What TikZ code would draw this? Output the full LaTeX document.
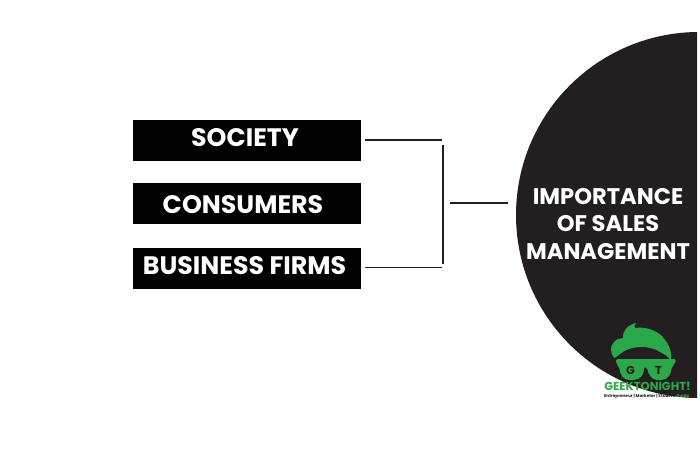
\documentclass[tikz,border=0pt]{standalone}
\usepackage{fontspec}
\setmainfont{Poppins}
\usepackage{xcolor}
\usetikzlibrary{positioning}
\definecolor{inkblack}{HTML}{231F20}
\definecolor{geekgreen}{HTML}{2BA84A}

\begin{document}
\begin{tikzpicture}[
    x=1pt, y=-1pt,
    barbox/.style={rectangle, fill=black, minimum width=228pt, minimum height=41pt, inner sep=0pt, outer sep=0pt},
    barlabel/.style={text=white, inner sep=0pt, font=\fontsize{25.3}{30}\selectfont\bfseries},
    link/.style={draw=inkblack, line width=1.1pt},
    titletext/.style={text=white, align=center, inner sep=0pt, font=\fontsize{22.6}{27.5}\selectfont\bfseries},
    lensletter/.style={text=inkblack, inner sep=0pt, font=\fontsize{11.5}{12}\selectfont\bfseries},
]
\useasboundingbox (0,0) rectangle (700,451);

% half disc on the right
\begin{scope}
    \clip (0,0) rectangle (697,398);
    \fill[inkblack] (699,215) circle[radius=183];
\end{scope}

% boxes
\node[barbox] (society) at (247,140.5) {};
\node[barbox, below=22pt of society] (consumers) {};
\node[barbox, below=24pt of consumers] (firms) {};
\node[barlabel] (societytext) at (245,138) {SOCIETY};
\node[barlabel] (consumerstext) at (243,204.5) {CONSUMERS};
\node[barlabel] (firmstext) at (244.5,266) {BUSINESS FIRMS};
\node[titletext] (title) at (608,224) {IMPORTANCE\\OF SALES\\MANAGEMENT};

% bracket
\coordinate (topend) at (442,140);
\coordinate (barTop) at (443,145);
\coordinate (barBottom) at (443,264);
\coordinate (botend) at (442,267.5);
\coordinate (midleft) at (450,203);
\coordinate (midright) at (508,203);
\draw[link] (society.east |- topend) ++(4,0) -- (topend);
\draw[link] (firms.east |- botend) ++(4,0) -- (botend);
\draw[link] (barTop) -- (barBottom);
\draw[link] (midleft) -- (midright);

% logo
\fill[geekgreen] (614,358) .. controls (610,352) and (610,346) .. (614,342)
    .. controls (617,339) and (620,338) .. (623,338)
    .. controls (622,332) and (627,325) .. (636,323)
    .. controls (634,325) and (634,327) .. (635,328)
    .. controls (645,326) and (660,331) .. (665,340)
    .. controls (670,346) and (672,353) .. (671,361)
    .. controls (668,356) and (664,354) .. (660,352)
    .. controls (650,345) and (630,345) .. (620,354)
    .. controls (618,356) and (616,357) .. (614,358) -- cycle;
\fill[geekgreen, rounded corners=2pt] (616,359) -- (676,359) -- (675,364) -- (672,366)
    .. controls (671,374) and (668,380) .. (659,380)
    .. controls (652,380) and (648,374) .. (647,367)
    -- (644,367)
    .. controls (644,375) and (640,380) .. (631,380)
    .. controls (623,380) and (620,374) .. (619,366) -- (616,364) -- cycle;
\node[lensletter] (letterG) at (630.5,370) {G};
\node[lensletter] (letterT) at (658.5,370) {T};
\node[inner sep=0pt, text=geekgreen, font=\fontsize{11.6}{12}\selectfont\bfseries] (brand) at (647.5,386.5) {GEEKTONIGHT!};
\node[inner sep=0pt, anchor=west, text=inkblack, font=\fontsize{4.2}{5}\selectfont\bfseries] (tagline) at (604,396) {Entrepreneur | Marketer | Student \textcolor{geekgreen}{Guide}};
\end{tikzpicture}
\end{document}
